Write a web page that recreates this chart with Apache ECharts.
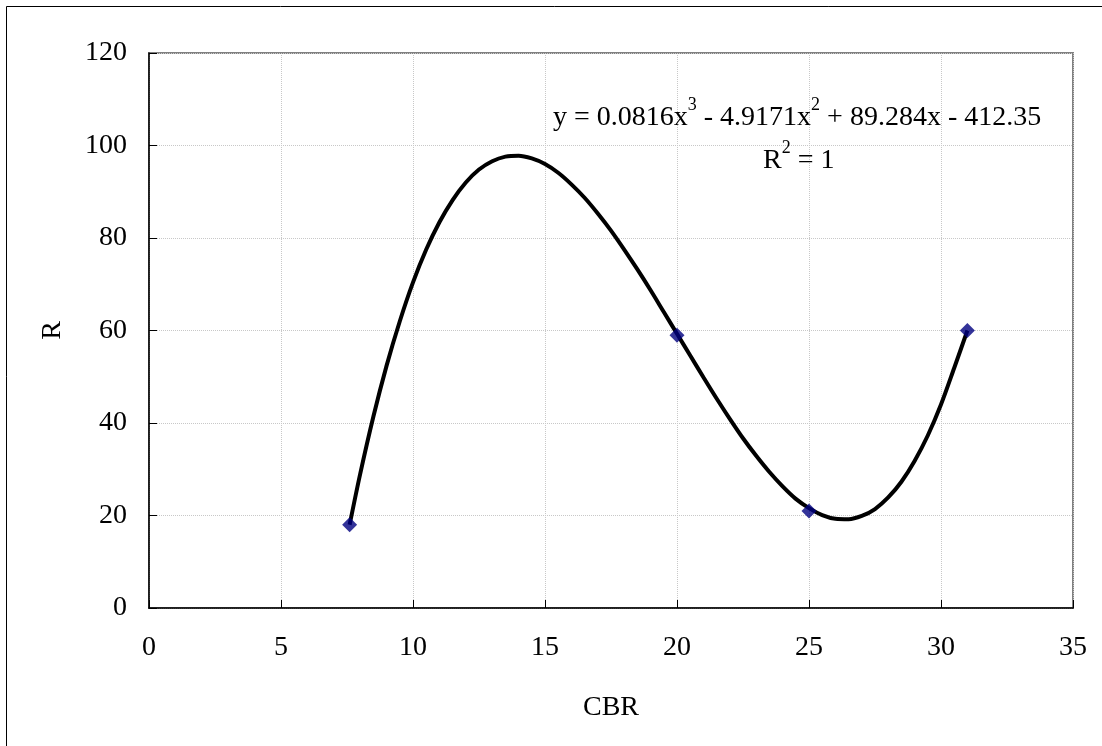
<!DOCTYPE html>
<html>
<head>
<meta charset="utf-8">
<script src="https://cdn.jsdelivr.net/npm/echarts@6/dist/echarts.min.js"></script>
<style>
html,body{margin:0;padding:0;background:#fff;}
#c{width:1102px;height:746px;}
</style>
</head>
<body>
<div id="c"></div>
<script>
// Observed data points (CBR, R)
const cbrValues = [7.6, 20, 25, 31];
const rValues = [18, 59, 21, 60];
// Trendline
const curveX = [7.6, 8, 8.5, 9, 9.5, 10, 10.5, 11, 11.5, 12, 12.5, 13, 13.5, 14, 14.5, 15, 15.5, 16, 16.5, 17, 17.5, 18, 18.5, 19, 19.5, 20, 20.5, 21, 21.5, 22, 22.5, 23, 23.5, 24, 24.5, 25, 25.5, 26, 26.5, 27, 27.5, 28, 28.5, 29, 29.5, 30, 30.5, 31];
const curveY = [18, 29, 41.4, 52.4, 62, 70.4, 77.5, 83.4, 88.2, 92, 94.8, 96.6, 97.6, 97.8, 97.2, 96, 94.1, 91.6, 88.7, 85.3, 81.6, 77.5, 73.2, 68.7, 64, 59.3, 54.6, 49.9, 45.3, 40.9, 36.7, 32.9, 29.4, 26.3, 23.6, 21.6, 20.1, 19.3, 19.2, 19.9, 21.4, 23.9, 27.3, 31.8, 37.3, 44, 51.9, 60];
const xTicks = [0, 5, 10, 15, 20, 25, 30, 35];
const yTicks = [0, 20, 40, 60, 80, 100, 120];
const xTitle = 'CBR';
const yTitle = 'R';

const font = '"Liberation Serif", "Times New Roman", serif';
const chart = echarts.init(document.getElementById('c'), null, {renderer: 'canvas'});
const option = {
  backgroundColor: '#fff',
  animation: false,
  grid: {left: 149, top: 53, right: 29, bottom: 138, show: true, borderColor: '#808080', borderWidth: 2, backgroundColor: 'transparent'},
  xAxis: {
    type: 'value', min: xTicks[0], max: xTicks[xTicks.length - 1], interval: 5,
    name: xTitle, nameLocation: 'middle', nameGap: 86,
    nameTextStyle: {fontFamily: font, fontSize: 28, color: '#000'},
    axisLine: {show: true, onZero: false, lineStyle: {color: '#000', width: 1.5}},
    axisTick: {show: true, inside: true, length: 8, lineStyle: {color: '#000', width: 1}},
    axisLabel: {fontFamily: font, fontSize: 28, color: '#000', margin: 26},
    splitLine: {show: true, lineStyle: {color: '#c8c8c8', type: 'dotted', width: 1}}
  },
  yAxis: {
    type: 'value', min: yTicks[0], max: yTicks[yTicks.length - 1], interval: 20,
    name: yTitle, nameLocation: 'middle', nameGap: 82, nameRotate: 90,
    nameTextStyle: {fontFamily: font, fontSize: 28, color: '#000'},
    axisLine: {show: true, onZero: false, lineStyle: {color: '#000', width: 1.5}},
    axisTick: {show: true, inside: true, length: 8, lineStyle: {color: '#000', width: 1}},
    axisLabel: {fontFamily: font, fontSize: 28, color: '#000', margin: 22},
    splitLine: {show: true, lineStyle: {color: '#c8c8c8', type: 'dotted', width: 1}}
  },
  series: [
    {
      type: 'line', smooth: 0.3, showSymbol: false, symbol: 'none',
      data: curveX.map((x, i) => [x, curveY[i]]),
      lineStyle: {color: '#000', width: 4}, z: 2
    },
    {
      type: 'scatter', symbol: 'diamond', symbolSize: 15,
      data: cbrValues.map((x, i) => [x, rValues[i]]),
      itemStyle: {color: '#000080'}, z: 3
    }
  ],
  graphic: [
    {type: 'rect', shape: {x: 6.5, y: 6.5, width: 1200, height: 1000}, style: {fill: 'none', stroke: '#000', lineWidth: 1}, silent: true, z: -1},
    {
      type: 'text', left: 553, top: 96, z: 10,
      style: {
        text: '{n|y = 0.0816x}{s|3}{n| - 4.9171x}{s|2}{n| + 89.284x - 412.35}',
        rich: {
          n: {fontFamily: font, fontSize: 28, color: '#000', lineHeight: 36, verticalAlign: 'bottom'},
          s: {fontFamily: font, fontSize: 18, color: '#000', lineHeight: 36, verticalAlign: 'top'}
        }
      }
    },
    {
      type: 'text', left: 763, top: 139, z: 10,
      style: {
        text: '{n|R}{s|2}{n| = 1}',
        rich: {
          n: {fontFamily: font, fontSize: 28, color: '#000', lineHeight: 36, verticalAlign: 'bottom'},
          s: {fontFamily: font, fontSize: 18, color: '#000', lineHeight: 36, verticalAlign: 'top'}
        }
      }
    }
  ]
};
chart.setOption(option);
</script>
</body>
</html>
